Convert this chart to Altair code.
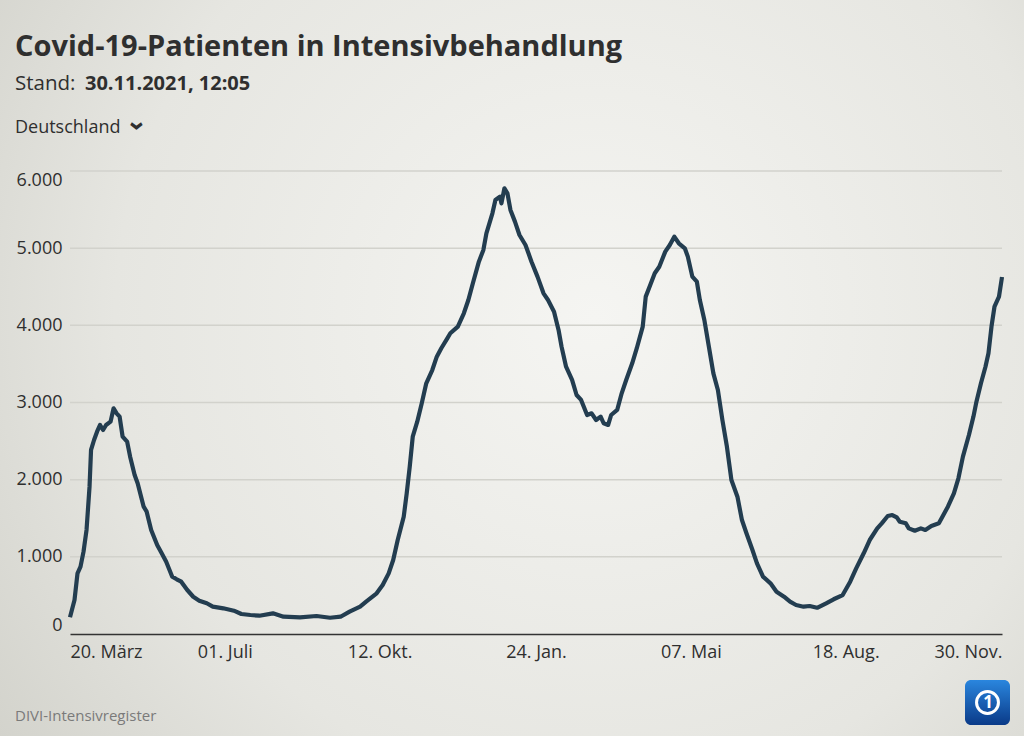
import altair as alt
import pandas as pd

# ---------------- data ----------------
start_date = "2020-03-20"
day_offset = [
    0, 3, 5, 7, 9, 11, 13, 14, 16, 18, 20, 22, 24, 27, 29, 31, 33, 35, 38, 40,
    43, 45, 49, 51, 54, 58, 61, 64, 68, 71, 74, 78, 82, 86, 91, 95, 102, 109, 114, 120,
    126, 135, 142, 153, 164, 173, 180, 186, 193, 197, 204, 208, 212, 215, 218, 222, 224, 226, 228, 231,
    234, 237, 241, 244, 247, 251, 253, 258, 262, 265, 268, 272, 275, 277, 281, 283, 286, 287, 289, 291,
    293, 296, 299, 303, 305, 307, 311, 315, 318, 322, 325, 327, 330, 334, 337, 340, 344, 347, 350, 353,
    355, 358, 360, 364, 367, 370, 374, 377, 381, 383, 386, 389, 392, 396, 399, 402, 405, 409, 411, 414,
    417, 419, 422, 425, 428, 431, 434, 437, 440, 444, 447, 450, 454, 457, 461, 466, 470, 475, 479, 483,
    488, 492, 497, 503, 508, 514, 519, 523, 528, 532, 537, 540, 544, 547, 550, 552, 556, 558, 562, 566,
    569, 573, 578, 581, 584, 588, 591, 594, 598, 601, 603, 606, 609, 611, 613, 615, 618, 620,
]
patients = [
    216, 440, 786, 872, 1067, 1348, 1909, 2385, 2514, 2622, 2709, 2644, 2709, 2752, 2925, 2860, 2817, 2557, 2492, 2298,
    2061, 1953, 1650, 1585, 1348, 1153, 1046, 937, 743, 709, 678, 570, 483, 432, 398, 354, 333, 302, 259, 246,
    237, 268, 224, 216, 233, 211, 224, 289, 354, 419, 527, 635, 786, 959, 1218, 1520, 1823, 2168, 2557, 2752,
    2990, 3249, 3421, 3594, 3703, 3832, 3897, 3983, 4156, 4328, 4545, 4825, 4977, 5193, 5452, 5625, 5668, 5581, 5776, 5711,
    5495, 5344, 5171, 5041, 4933, 4825, 4631, 4415, 4328, 4177, 3940, 3724, 3464, 3292, 3097, 3033, 2838, 2860, 2773, 2817,
    2731, 2709, 2838, 2903, 3119, 3292, 3508, 3700, 3983, 4372, 4523, 4675, 4760, 4955, 5041, 5149, 5063, 4998, 4890, 4631,
    4566, 4328, 4069, 3724, 3378, 3162, 2773, 2427, 1996, 1779, 1477, 1305, 1089, 916, 743, 657, 548, 483, 419, 376,
    354, 363, 340, 398, 450, 505, 678, 851, 1046, 1218, 1369, 1434, 1529, 1542, 1512, 1455, 1434, 1369, 1339, 1369,
    1348, 1400, 1434, 1542, 1650, 1823, 2018, 2298, 2579, 2817, 3011, 3249, 3464, 3638, 3983, 4242, 4372, 4627,
]
tick_dates = [(2020, 3, 20), (2020, 7, 1), (2020, 10, 12), (2021, 1, 24),
              (2021, 5, 7), (2021, 8, 18), (2021, 11, 30)]
tick_labels = ["20. März", "01. Juli", "12. Okt.", "24. Jan.", "07. Mai", "18. Aug.", "30. Nov."]
y_ticks = [0, 1000, 2000, 3000, 4000, 5000, 6000]

title_text = "Covid-19-Patienten in Intensivbehandlung"
stand_label = "Stand:"
stand_value = "30.11.2021, 12:05"
region_label = "Deutschland"
source_text = "DIVI-Intensivregister"

# ---------------- tables ----------------
df = pd.DataFrame({
    "datum": pd.Timestamp(start_date) + pd.to_timedelta(day_offset, unit="D"),
    "patienten": patients,
})
grid_df = pd.DataFrame({"patienten": y_ticks[1:]})
one = pd.DataFrame({"a": [0]})

W, H = 932, 463
FONT = "Open Sans"
TXT = "#2f2f2f"

label_expr = ""
for (yy, mm, dd), lab in zip(tick_dates, tick_labels):
    label_expr += f"timeFormat(datum.value, '%Y-%m-%d') == '{yy:04d}-{mm:02d}-{dd:02d}' ? '{lab}' : "
label_expr += "''"

x_enc = alt.X(
    "datum:T",
    scale=alt.Scale(domain=[alt.DateTime(year=2020, month=3, date=20),
                            alt.DateTime(year=2021, month=11, date=30)]),
    axis=alt.Axis(
        values=[alt.DateTime(year=y, month=m, date=d) for y, m, d in tick_dates],
        labelExpr=label_expr, title=None, grid=False, ticks=False,
        domain=True, domainColor="#333333", domainWidth=1.5,
        labelFlush=True, labelFont=FONT, labelFontSize=18, labelColor=TXT,
        labelPadding=9, labelOverlap=False, zindex=1,
    ),
)
y_enc = alt.Y(
    "patienten:Q",
    scale=alt.Scale(domain=[0, 6000], nice=False),
    axis=alt.Axis(
        values=y_ticks, labelExpr="replace(format(datum.value, ','), ',', '.')",
        title=None, grid=False, ticks=False, domain=False,
        labelFlush=True, labelFont=FONT, labelFontSize=18, labelColor=TXT,
        labelPadding=8, zindex=1,
    ),
)

bg = alt.Chart(one).mark_rect(
    fill=alt.RadialGradient(
        gradient="radial",
        stops=[alt.GradientStop(offset=0, color="#f5f5f2"),
               alt.GradientStop(offset=0.55, color="#e6e6e1"),
               alt.GradientStop(offset=1, color="#c8c8c0")],
        x1=0.58, y1=0.45, r1=0, x2=0.58, y2=0.45, r2=0.85,
    )
).encode(x=alt.value(-70), x2=alt.value(1024 - 70), y=alt.value(-171), y2=alt.value(736 - 171))

grid = alt.Chart(grid_df).mark_rule(color="#d2d2cc", strokeWidth=1.5).encode(y=y_enc)

line = alt.Chart(df).mark_line(color="#233d50", strokeWidth=4.2, strokeJoin="round").encode(x=x_enc, y=y_enc)


def label(text, x, y, size, weight="normal", color=TXT, **kw):
    return alt.Chart(one).mark_text(
        text=text, font=FONT, fontSize=size, fontWeight=weight, color=color,
        align="left", baseline="alphabetic", **kw
    ).encode(x=alt.value(x), y=alt.value(y))


title = label(title_text, -55, -115, 29, "bold")
stand1 = label(stand_label, -55, -81, 20.5)
stand2 = label(stand_value, 15, -81, 20, "bold")
region = label(region_label, -55, -38, 18)
chevron = alt.Chart(one).mark_text(
    text="›", font=FONT, fontSize=26, fontWeight="bold", color=TXT, angle=90,
    align="center", baseline="middle"
).encode(x=alt.value(67), y=alt.value(-45))
source = label(source_text, -55, 550, 15, color="#7a7a7a")

logo_box = alt.Chart(one).mark_rect(
    cornerRadius=6,
    fill=alt.LinearGradient(
        gradient="linear",
        stops=[alt.GradientStop(offset=0, color="#2a86de"),
               alt.GradientStop(offset=1, color="#0a3a88")],
        x1=0, y1=0, x2=0, y2=1,
    ),
).encode(x=alt.value(895), x2=alt.value(940), y=alt.value(509), y2=alt.value(554))
logo_ring = alt.Chart(one).mark_point(
    shape="circle", size=480, stroke="white", strokeWidth=3, filled=False, opacity=1
).encode(x=alt.value(917.5), y=alt.value(531.5))
logo_one = alt.Chart(one).mark_text(
    text="1", font=FONT, fontSize=17, fontWeight="bold", color="white",
    align="center", baseline="middle"
).encode(x=alt.value(918), y=alt.value(532))

chart = alt.layer(
    bg, grid, line, title, stand1, stand2, region, chevron, source,
    logo_box, logo_ring, logo_one,
).properties(
    width=W, height=H,
    autosize=alt.AutoSizeParams(type="none"),
    padding={"left": 70, "top": 171, "right": 1024 - 70 - W, "bottom": 736 - 171 - H},
    background="#e4e4df",
).configure_view(stroke=None)

chart.save("out.html", embed_options={"renderer": "svg", "actions": False})
